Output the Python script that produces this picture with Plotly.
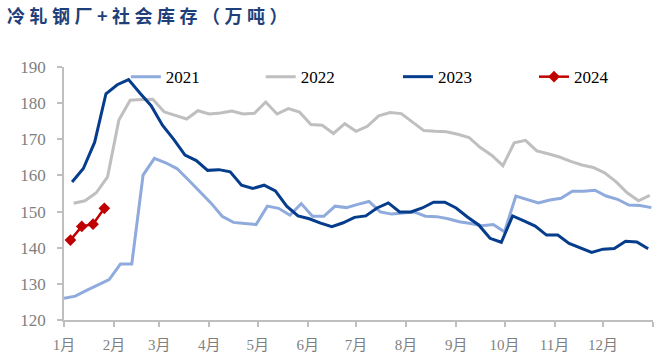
import pandas as pd
import plotly.graph_objects as go

# ---- data (weekly, 万吨) ----
start_2021 = "2021-01-01"
v2021 = [126.0, 126.6, 128.2, 129.7, 131.2, 135.5, 135.5, 160.1, 164.7, 163.5, 161.9, 158.8, 155.6,
         152.4, 148.7, 147.0, 146.7, 146.4, 151.5, 150.9, 149.0, 152.2, 148.7, 148.7, 151.5, 151.1,
         152.0, 152.8, 149.9, 149.3, 149.6, 149.9, 148.7, 148.6, 148.0, 147.2, 146.7, 146.1, 146.4,
         144.4, 154.3, 153.4, 152.4, 153.2, 153.7, 155.6, 155.6, 155.9, 154.3, 153.4, 151.8, 151.7, 151.1]

start_2022 = "2022-01-07"
v2022 = [152.3, 153.0, 155.2, 159.6, 175.3, 180.8, 181.0, 181.1, 177.6, 176.5, 175.6, 177.9, 177.0,
         177.3, 177.8, 177.0, 177.2, 180.3, 177.0, 178.5, 177.5, 174.1, 173.9, 171.6, 174.3, 172.2,
         173.6, 176.5, 177.4, 177.1, 174.8, 172.4, 172.2, 172.1, 171.4, 170.5, 167.7, 165.6, 162.7,
         169.0, 169.7, 166.8, 166.0, 165.1, 163.9, 162.9, 162.2, 160.7, 158.3, 155.2, 153.0, 154.5]

start_2023 = "2023-01-06"
v2023 = [158.2, 161.9, 169.2, 182.6, 185.1, 186.5, 182.8, 179.3, 173.9, 170.0, 165.6, 164.1, 161.4,
         161.6, 161.0, 157.3, 156.4, 157.3, 155.7, 151.5, 148.8, 148.0, 146.8, 145.8, 146.9, 148.4,
         148.8, 151.0, 152.4, 149.9, 149.9, 151.0, 152.6, 152.6, 151.0, 148.5, 146.3, 142.6, 141.5,
         148.8, 147.4, 146.0, 143.5, 143.5, 141.2, 140.0, 138.7, 139.6, 139.8, 141.8, 141.6, 139.7]

start_2024 = "2024-01-05"
v2024 = [142.1, 145.9, 146.5, 150.9]

month_labels = ["1月", "2月", "3月", "4月", "5月", "6月", "7月", "8月", "9月", "10月", "11月", "12月"]

title_text = "冷轧钢厂+社会库存（万吨）"

BASE_YEAR = 2023


def dates_for(start, n):
    d = pd.date_range(start, periods=n, freq="7D")
    return [x.replace(year=BASE_YEAR).strftime("%Y-%m-%d") for x in d]


series = [
    ("2021", start_2021, v2021, "#8FAADC", False),
    ("2022", start_2022, v2022, "#BFBFBF", False),
    ("2023", start_2023, v2023, "#053C8C", False),
    ("2024", start_2024, v2024, "#C00000", True),
]
legend_ids = ["legend", "legend2", "legend3", "legend4"]
legend_x = [0.105, 0.334, 0.567, 0.798]

fig = go.Figure()
for (name, st, vals, col, mk), lid in zip(series, legend_ids):
    fig.add_trace(go.Scatter(
        x=dates_for(st, len(vals)), y=vals, name=name, legend=lid,
        mode="lines+markers" if mk else "lines",
        line=dict(color=col, width=2.5 if mk else 3),
        marker=dict(symbol="diamond", size=9, color=col) if mk else None,
    ))

tickvals = [f"{BASE_YEAR}-{m:02d}-01" for m in range(1, 13)] + [f"{BASE_YEAR + 1}-01-01"]
ticktext = month_labels + [""]

ytick_font = dict(family="Liberation Serif", size=17, color="#7F7F7F")
xtick_font = dict(family="Liberation Serif, Noto Sans CJK SC", size=15, color="#7F7F7F")

layout_legends = {}
for lid, lx in zip(legend_ids, legend_x):
    layout_legends[lid] = dict(orientation="h", x=lx, xanchor="left", y=0.96, yanchor="middle",
                               font=dict(family="Liberation Serif", size=17, color="black"),
                               bgcolor="rgba(0,0,0,0)")

spaced_title = "\u2005".join(list(title_text))

fig.update_layout(
    width=669, height=353,
    margin=dict(l=64, r=16, t=67, b=33),
    paper_bgcolor="white", plot_bgcolor="white",
    title=dict(text="<b>" + spaced_title + "</b>", x=7 / 669, xanchor="left",
               xref="container", yref="container", y=1 - 17 / 353, yanchor="middle",
               font=dict(family="Noto Sans CJK SC", size=18, color="#1F3F7A")),
    xaxis=dict(type="date", range=[f"{BASE_YEAR}-01-01", f"{BASE_YEAR + 1}-01-01"],
               tickmode="array", tickvals=tickvals, ticktext=ticktext,
               showline=True, linecolor="#BFBFBF", linewidth=1.5,
               ticks="outside", ticklen=5, tickcolor="#BFBFBF", tickwidth=1.5,
               ticklabelstandoff=5, automargin=False,
               showgrid=False, zeroline=False, tickfont=xtick_font),
    yaxis=dict(range=[120, 190], dtick=10, tick0=120,
               showline=True, linecolor="#BFBFBF", linewidth=1.5,
               ticks="outside", ticklen=5, tickcolor="#BFBFBF", tickwidth=1.5,
               ticklabelstandoff=8, automargin=False,
               showgrid=False, zeroline=False, tickfont=ytick_font),
    showlegend=True,
    **layout_legends,
)

fig.write_html("out.html")
